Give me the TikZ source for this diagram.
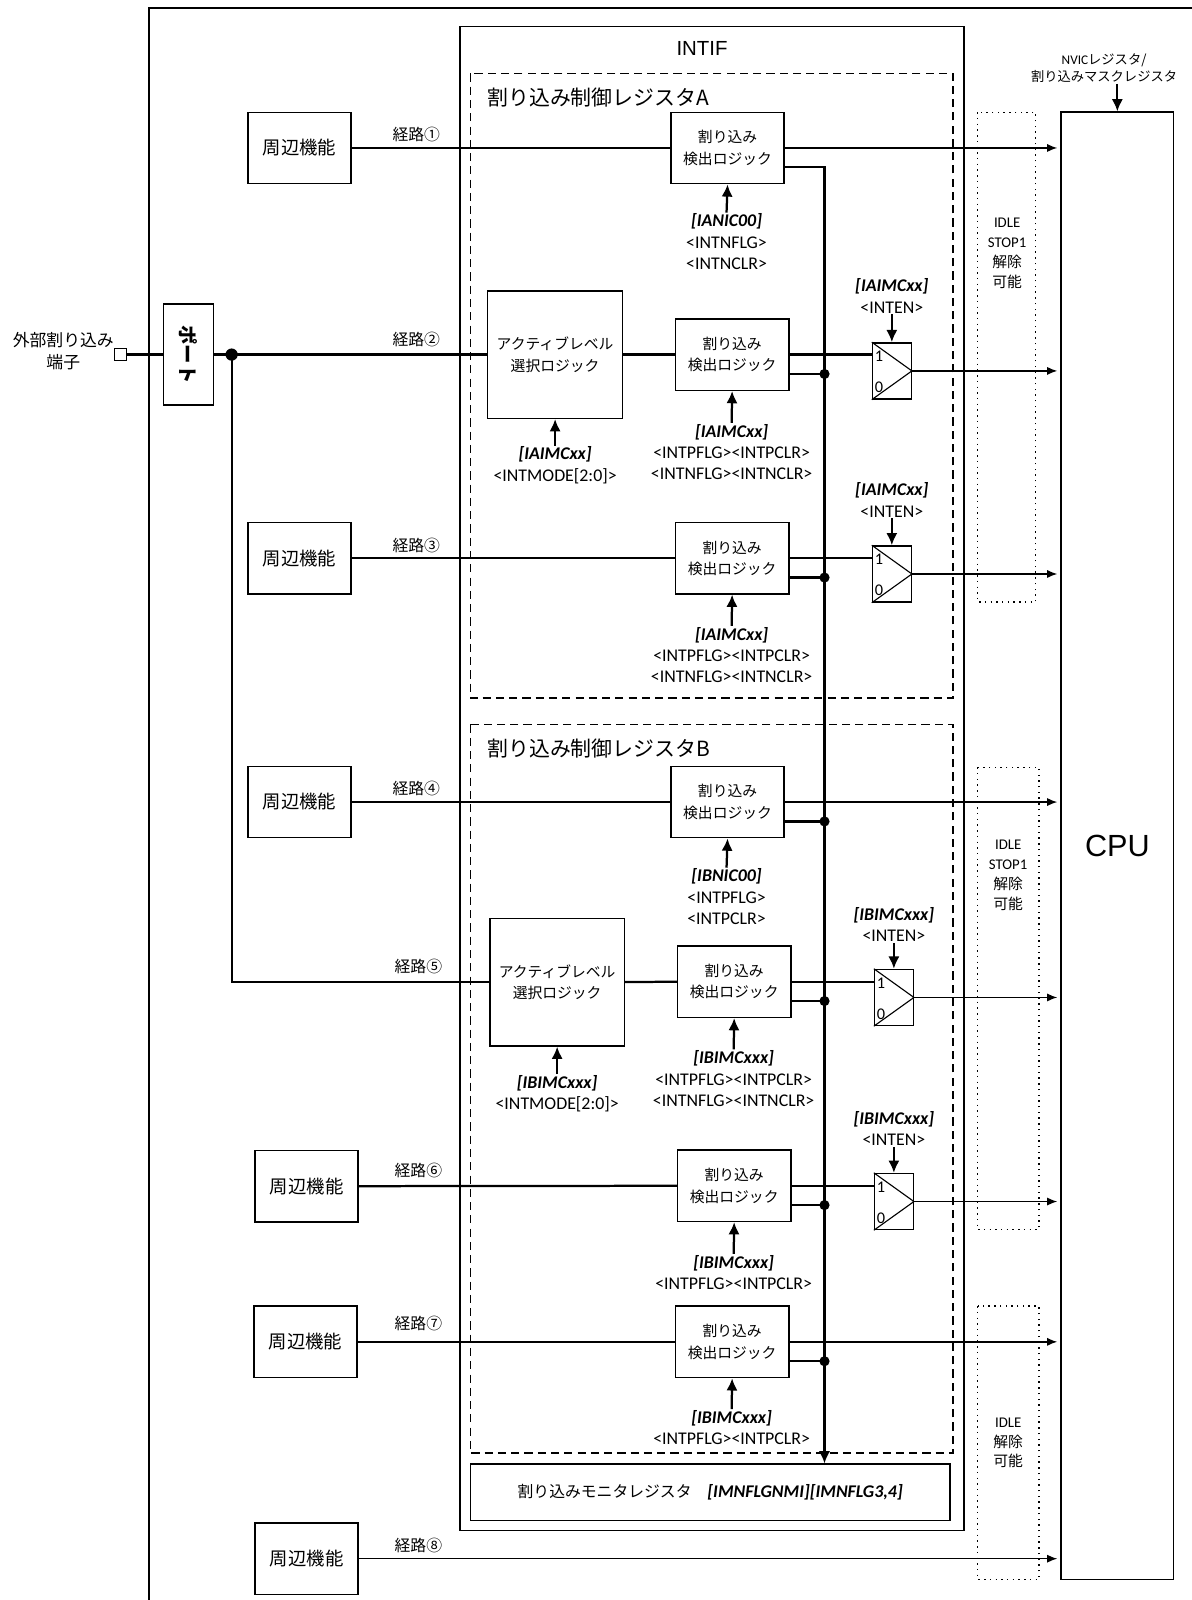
\documentclass[tikz,border=0pt]{standalone}
\usepackage{fontspec}
\setmainfont{Noto Sans CJK JP}
\newfontfamily\lat{Carlito}
\newfontfamily\ari{Liberation Sans}
\usetikzlibrary{arrows.meta,calc}

\begin{document}
\begin{tikzpicture}[x=1pt,y=-1pt,
  box/.style={draw, line width=1.4pt, align=center, inner sep=0pt},
  perbox/.style={box, minimum width=101pt, minimum height=70pt, font=\fontsize{18}{22}\selectfont},
  detbox/.style={box, minimum width=111pt, minimum height=70pt, font=\fontsize{14.5}{21}\selectfont},
  actbox/.style={box, minimum width=132pt, minimum height=125pt, font=\fontsize{14.5}{21}\selectfont},
  muxbox/.style={draw, line width=1.3pt, minimum width=38pt, minimum height=55pt, inner sep=0pt},
  reglabel/.style={align=center, inner sep=1pt, font=\lat\fontsize{17.5}{21}\selectfont},
  route/.style={inner sep=1pt, font=\fontsize{15.5}{18}\selectfont},
  idletext/.style={align=center, inner sep=1pt, font=\fontsize{14.5}{19.5}\selectfont},
  bit/.style={inner sep=0pt, font=\lat\fontsize{16}{18}\selectfont},
  sig/.style={line width=2.2pt},
  outsig/.style={line width=1.5pt, -{Latex[length=10pt,width=8pt]}, shorten >=3pt},
  ctl/.style={line width=2.2pt, -{Latex[length=12pt,width=11pt]}},
  busdot/.style={circle, fill, inner sep=0pt, minimum size=10pt},
  regbox/.style={line width=1.3pt, dash pattern=on 8pt off 5pt},
  idlebox/.style={line width=1.4pt, dash pattern=on 1.4pt off 4.2pt}]

  \useasboundingbox (0,0) rectangle (1168,1568);

  % --- cornice esterna ---
  \draw[line width=2.6pt] (146,1575) -- (146,8) -- (1175,8);

  % --- INTIF e registri ---
  \draw[line width=1.6pt] (451,26) rectangle (945,1500);
  \node[font=\ari\fontsize{20}{24}\selectfont] (intif) at (688,48) {INTIF};
  \draw[regbox] (461,72) rectangle (934,684);
  \node[anchor=west, font=\fontsize{20.5}{24}\selectfont] (regA) at (474,96) {割り込み制御レジスタA};
  \draw[regbox] (461,710) rectangle (934,1424);
  \node[anchor=west, font=\fontsize{20.5}{24}\selectfont] (regB) at (474,734) {割り込み制御レジスタB};
  \node[box, line width=1.6pt, minimum width=470pt, minimum height=55pt] (mon) at (696,1462.5)
    {\fontsize{15.5}{18}\selectfont 割り込みモニタレジスタ\quad{\lat\fontsize{17.5}{18}\selectfont\bfseries\itshape [IMNFLGNMI][IMNFLG3,4]}};

  % --- zone IDLE ---
  \draw[idlebox] (958,110) rectangle (1015,590);
  \draw[idlebox] (958,752) rectangle (1018,1205);
  \draw[idlebox] (958,1280) rectangle (1018,1548);
  \node[idletext] (idle1) at (987,248) {{\lat IDLE}\\{\lat STOP1}\\解除\\可能};
  \node[idletext] (idle2) at (988,858) {{\lat IDLE}\\{\lat STOP1}\\解除\\可能};
  \node[idletext] (idle3) at (988,1414) {{\lat IDLE}\\解除\\可能};

  % --- CPU ---
  \node[box, line width=1.6pt, minimum width=110pt, minimum height=1438pt,
    font=\ari\fontsize{30}{36}\selectfont] (cpu) at (1095,829) {CPU};
  \node[align=center, inner sep=1pt, font=\fontsize{13}{16.5}\selectfont] (nvic) at (1082,67)
    {{\lat NVIC}レジスタ/\\割り込みマスクレジスタ};
  \draw[ctl] (cpu.north |- nvic.south) -- (cpu.north);

  % --- terminale esterno e porta ---
  \node[align=center, inner sep=1pt, font=\fontsize{16.5}{21}\selectfont] (extlabel) at (62,344) {外部割り込み\\端子};
  \node[draw, line width=1.2pt, minimum size=12pt, inner sep=0pt] (term) at (118,347.5) {};
  \node[box, minimum width=49pt, minimum height=99pt] (port) at (184.5,347.5)
    {\rotatebox{-90}{\fontsize{19}{20}\selectfont\bfseries ポート}};
  \coordinate (junc) at (227,347.5);

  % --- periferiche ---
  \node[perbox] (per1) at (293.5,145) {周辺機能};
  \node[perbox] (per3) at (293.5,547) {周辺機能};
  \node[perbox] (per4) at (293.5,786) {周辺機能};
  \node[perbox] (per6) at (300.5,1162.5) {周辺機能};
  \node[perbox] (per7) at (299.5,1315) {周辺機能};
  \node[perbox] (per8) at (300.5,1527.5) {周辺機能};

  % --- logiche di selezione e rilevamento ---
  \node[actbox] (actA) at (544,347.5) {アクティブレベル\\選択ロジック};
  \node[actbox] (actB) at (546,962.5) {アクティブレベル\\選択ロジック};
  \node[detbox] (detA1) at (713,145) {割り込み\\検出ロジック};
  \node[detbox] (detA2) at (717.5,347.5) {割り込み\\検出ロジック};
  \node[detbox] (detA3) at (717.5,547) {割り込み\\検出ロジック};
  \node[detbox] (detB1) at (713,786) {割り込み\\検出ロジック};
  \node[detbox] (detB2) at (719.5,962) {割り込み\\検出ロジック};
  \node[detbox] (detB3) at (719.5,1162) {割り込み\\検出ロジック};
  \node[detbox] (detB4) at (717.5,1315) {割り込み\\検出ロジック};

  % --- multiplexer ---
  \node[muxbox] (muxA2) at (874,363.5) {};
  \node[muxbox] (muxA3) at (874,562.5) {};
  \node[muxbox] (muxB2) at (876,977.5) {};
  \node[muxbox] (muxB3) at (876,1177.5) {};
  \foreach \m in {muxA2,muxA3,muxB2,muxB3} {
    \draw[line width=1.1pt] (\m.north west) -- (\m.east) -- (\m.south west);
    \node[bit] (\m-1) at ($(\m.north west)+(7,14)$) {1};
    \node[bit] (\m-0) at ($(\m.south west)+(7,-12)$) {0};
  }

  % --- etichette dei registri ---
  \node[reglabel] (cA1) at (712,237) {\textbf{\textit{[IANIC00]}}\\<INTNFLG>\\<INTNCLR>};
  \node[reglabel] (cActA) at (544,456) {\textbf{\textit{[IAIMCxx]}}\\<INTMODE[2:0]>};
  \node[reglabel] (cA2) at (717,443) {\textbf{\textit{[IAIMCxx]}}\\<INTPFLG><INTPCLR>\\<INTNFLG><INTNCLR>};
  \node[reglabel] (cA3) at (717,642) {\textbf{\textit{[IAIMCxx]}}\\<INTPFLG><INTPCLR>\\<INTNFLG><INTNCLR>};
  \node[reglabel] (eA2) at (874,290) {\textbf{\textit{[IAIMCxx]}}\\<INTEN>};
  \node[reglabel] (eA3) at (874,490) {\textbf{\textit{[IAIMCxx]}}\\<INTEN>};
  \node[reglabel] (cB1) at (712,879) {\textbf{\textit{[IBNIC00]}}\\<INTPFLG>\\<INTPCLR>};
  \node[reglabel] (cActB) at (546,1072) {\textbf{\textit{[IBIMCxxx]}}\\<INTMODE[2:0]>};
  \node[reglabel] (cB2) at (719,1057) {\textbf{\textit{[IBIMCxxx]}}\\<INTPFLG><INTPCLR>\\<INTNFLG><INTNCLR>};
  \node[reglabel] (cB3) at (719,1247) {\textbf{\textit{[IBIMCxxx]}}\\<INTPFLG><INTPCLR>};
  \node[reglabel] (cB4) at (717,1399) {\textbf{\textit{[IBIMCxxx]}}\\<INTPFLG><INTPCLR>};
  \node[reglabel] (eB2) at (876,906) {\textbf{\textit{[IBIMCxxx]}}\\<INTEN>};
  \node[reglabel] (eB3) at (876,1106) {\textbf{\textit{[IBIMCxxx]}}\\<INTEN>};

  % --- frecce di controllo ---
  \foreach \c/\b in {cA1/detA1,cActA/actA,cA2/detA2,cA3/detA3,cB1/detB1,cActB/actB,cB2/detB2,cB3/detB3,cB4/detB4}
    \draw[ctl] (\c.north) -- (\b.south);
  \foreach \c/\b in {eA2/muxA2,eA3/muxA3,eB2/muxB2,eB3/muxB3}
    \draw[ctl] (\c.south) -- (\b.north);

  % --- percorsi ---
  \node[route] (r1) at (408,132) {経路①};
  \node[route] (r2) at (408,333) {経路②};
  \node[route] (r3) at (408,535) {経路③};
  \node[route] (r4) at (408,773) {経路④};
  \node[route] (r5) at (410,947) {経路⑤};
  \node[route] (r6) at (410,1147) {経路⑥};
  \node[route] (r7) at (410,1297) {経路⑦};
  \node[route] (r8) at (410,1515) {経路⑧};

  \draw[sig] (term) -- (port);
  \draw[sig] (port) -- (actA);
  \fill (junc) circle (6pt);
  \draw[sig] (junc) |- (actB.west);
  \draw[sig] (actA) -- (detA2);
  \draw[sig] (actB) -- (detB2);
  \draw[sig] (per1) -- (detA1);
  \draw[sig] (per3) -- (detA3);
  \draw[sig] (per4) -- (detB1);
  \draw[sig] (per6) -- (detB3);
  \draw[sig] (per7) -- (detB4);
  \foreach \d/\m in {detA2/muxA2,detA3/muxA3,detB2/muxB2,detB3/muxB3}
    \draw[sig] (\d.east) -- (\d.east -| \m.west);

  % --- uscite verso la CPU ---
  \foreach \s in {detA1,muxA2,muxA3,detB1,muxB2,muxB3,detB4,per8}
    \draw[outsig] (\s.east) -- (\s.east -| cpu.west);

  % --- bus dei flag verso il registro monitor ---
  \coordinate (busx) at (808,164);
  \coordinate (detA1-out) at ($(detA1.east)+(0,19)$);
  \draw[sig, -{Latex[length=12pt,width=11pt]}] (detA1-out) -| (busx |- mon.north);
  \foreach \d in {detA2,detA3,detB1,detB2,detB3,detB4} {
    \coordinate (\d-out) at ($(\d.east)+(0,19)$);
    \draw[sig] (\d-out) -- (\d-out -| busx) node[busdot] (\d-dot) {};
  }

\end{tikzpicture}
\end{document}
